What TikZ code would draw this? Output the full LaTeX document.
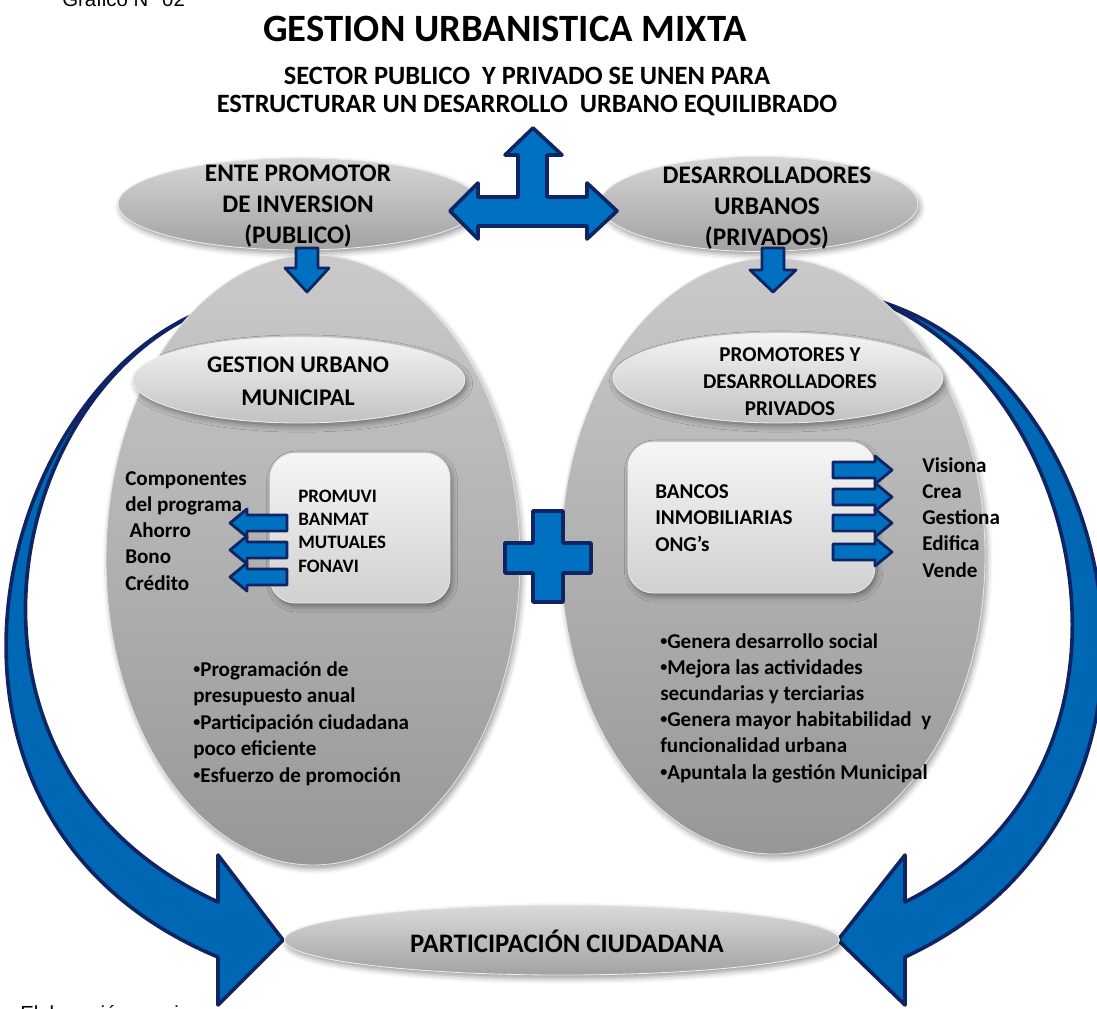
\documentclass[tikz,border=0pt]{standalone}
\usepackage{fontspec}
\setmainfont{Carlito}
\newfontfamily\arialfont{Liberation Sans}
\usetikzlibrary{shapes.geometric,shadows.blur}
\definecolor{abl}{HTML}{0070C0}
\definecolor{cbl}{HTML}{0067B5}
\definecolor{nvy}{HTML}{0F2463}
\definecolor{bigtop}{HTML}{CACACA}
\definecolor{bigbot}{HTML}{979797}
\definecolor{toptop}{HTML}{D6D6D6}
\definecolor{topbot}{HTML}{A2A2A2}
\definecolor{intop}{HTML}{F4F4F4}
\definecolor{inbot}{HTML}{C2C2C2}
\definecolor{boxtop}{HTML}{F6F6F6}
\definecolor{boxbot}{HTML}{D0D0D0}
\newcommand\pxu{0.025cm}
\newcommand\bul{\raisebox{0.28ex}{\fontsize{10}{10}\selectfont •}}
\begin{document}
\begin{tikzpicture}[x=0.025cm,y=-0.025cm,
  blk/.style={fill=abl, draw=nvy, line width=2.6pt, line join=round},
  sblk/.style={fill=abl, draw=nvy, line width=2pt, line join=round},
  shd/.style={blur shadow={shadow xshift=1.5pt, shadow yshift=-2.5pt, shadow blur radius=4pt, shadow opacity=40}},
  bigell/.style={ellipse, inner sep=0pt, top color=bigtop, bottom color=bigbot, draw=white!80!gray, line width=0.6pt, shd},
  topell/.style={ellipse, inner sep=0pt, top color=toptop, bottom color=topbot, draw=white!85!gray, line width=0.6pt, shd},
  inell/.style={ellipse, inner sep=0pt, top color=intop, bottom color=inbot, draw=white!85!gray, line width=0.6pt, shd},
  rbox/.style={rectangle, rounded corners=18pt, inner sep=0pt, top color=boxtop, bottom color=boxbot, draw=white!85!gray, line width=0.6pt, shd},
  tx/.style={inner sep=0pt, align=left, text=black, font=\bfseries\fontsize{15}{18.6}\selectfont},
  hd/.style={inner sep=0pt, align=center, text=black}
]
\useasboundingbox (0,0) rectangle (1097,1008);

% curved arrows (behind)
\draw[blk, fill=cbl] (200,312) .. controls (-10,400) and (-110,820) .. (218,957)
  -- (218,1005) -- (283,940) -- (218,855) -- (218,902)
  .. controls (-70,770) and (0,400) .. (200,312) -- cycle;
\draw[blk, fill=cbl] (875,300) .. controls (1120,370) and (1220,810) .. (905,957)
  -- (905,1005) -- (838,940) -- (905,855) -- (905,902)
  .. controls (1170,770) and (1090,385) .. (875,300) -- cycle;

% top ellipses
\node[topell, minimum width=362*\pxu, minimum height=92*\pxu] (etl) at (299,204) {};
\node[topell, minimum width=318*\pxu, minimum height=95*\pxu] (etr) at (759,204) {};

% big ellipses
\node[bigell, minimum width=414*\pxu, minimum height=610*\pxu] (bl) at (313,560) {};
\node[bigell, minimum width=424*\pxu, minimum height=596*\pxu] (br) at (773,556) {};

% T arrow
\draw[blk] (533,128) -- (562,155) -- (547,155) -- (547,197) -- (587,197) -- (587,183)
  -- (617,211) -- (587,239) -- (587,226) -- (478,226) -- (478,239) -- (450,211)
  -- (478,183) -- (478,197) -- (518,197) -- (518,155) -- (505,155) -- cycle;

% down arrows
\draw[sblk] (296,248) -- (318,248) -- (318,268) -- (329,268) -- (307,292) -- (285,268) -- (296,268) -- cycle;
\draw[sblk] (762,248) -- (784,248) -- (784,270) -- (796,270) -- (773,292) -- (750,270) -- (762,270) -- cycle;

% inner ellipses and boxes
\node[inell, minimum width=332*\pxu, minimum height=86*\pxu] (il) at (299,380) {};
\node[inell, minimum width=330*\pxu, minimum height=90*\pxu] (ir) at (778,378) {};
\node[rbox, minimum width=180*\pxu, minimum height=150*\pxu] (bxl) at (360,528) {};
\node[rbox, minimum width=247*\pxu, minimum height=151*\pxu] (bxr) at (751.5,517.5) {};

% small left arrows
\foreach \yy in {523,550,577}{
  \draw[sblk] (287,\yy-8) -- (247,\yy-8) -- (247,\yy-14) -- (230,\yy) -- (247,\yy+14) -- (247,\yy+8) -- (287,\yy+8) -- cycle;
}
% small right arrows
\foreach \yy in {470,497,523,552}{
  \draw[sblk] (833,\yy-8) -- (875,\yy-8) -- (875,\yy-14) -- (892,\yy) -- (875,\yy+14) -- (875,\yy+8) -- (833,\yy+8) -- cycle;
}

% plus
\draw[blk] (533,511) -- (563,511) -- (563,543) -- (591,543) -- (591,573) -- (563,573) -- (563,602)
  -- (533,602) -- (533,573) -- (505,573) -- (505,543) -- (533,543) -- cycle;

% bottom ellipse
\node[topell, top color=toptop!90!white, minimum width=555*\pxu, minimum height=70*\pxu] (pc) at (562,940) {};

% texts (anchor base = baseline of the last line)
\node[anchor=base west, inner sep=0pt, font=\arialfont\fontsize{14.5}{17}\selectfont] (graf) at (62,6) {Grafico N° 02};
\node[anchor=base west, inner sep=0pt, font=\arialfont\fontsize{14.5}{17}\selectfont] (elab) at (20,1020) {Elaboración propia};

\node[hd, anchor=base, font=\bfseries\fontsize{27.5}{32}\selectfont] (title) at (505,41) {GESTION URBANISTICA MIXTA};
\node[hd, anchor=base, font=\bfseries\fontsize{18.8}{19.9}\selectfont] (sub) at (527,112) {SECTOR PUBLICO\ \ Y PRIVADO SE UNEN PARA\\ESTRUCTURAR UN DESARROLLO\ \ URBANO EQUILIBRADO};

\node[hd, anchor=base, font=\bfseries\fontsize{18}{21.7}\selectfont] (tlt) at (298,243) {ENTE PROMOTOR\\DE INVERSION\\(PUBLICO)};
\node[hd, anchor=base, font=\bfseries\fontsize{18}{21.7}\selectfont] (trt) at (767,245) {DESARROLLADORES\\URBANOS\\(PRIVADOS)};

\node[hd, anchor=base, font=\bfseries\fontsize{17}{22.8}\selectfont] (ilt) at (298,405) {GESTION URBANO\\MUNICIPAL};
\node[hd, anchor=base, font=\bfseries\fontsize{15}{19.2}\selectfont] (irt) at (790,415) {PROMOTORES Y\\DESARROLLADORES\\PRIVADOS};

\node[tx, anchor=base west, font=\bfseries\fontsize{13.5}{16.4}\selectfont] (bxlt) at (298,572) {PROMUVI\\BANMAT\\MUTUALES\\FONAVI};
\node[tx, anchor=base west] (bxrt) at (655,551) {BANCOS\\INMOBILIARIAS\\ONG’s};

\node[tx, anchor=base west] (comp) at (125,590) {Componentes\\del programa\\\hspace{3pt}Ahorro\\Bono\\Crédito};
\node[tx, anchor=base west] (vis) at (922,577) {Visiona\\Crea\\Gestiona\\Edifica\\Vende};

\node[tx, anchor=base west, font=\bfseries\fontsize{15}{18.8}\selectfont] (bull) at (193,782) {\bul Programación de\\presupuesto anual\\\bul Participación ciudadana\\poco eficiente\\\bul Esfuerzo de promoción};
\node[tx, anchor=base west, font=\bfseries\fontsize{15}{18.6}\selectfont] (bulr) at (660,779) {\bul Genera desarrollo social\\\bul Mejora las actividades\\secundarias y terciarias\\\bul Genera mayor habitabilidad\ \ y\\funcionalidad urbana\\\bul Apuntala la gestión Municipal};

\node[hd, anchor=base, font=\bfseries\fontsize{19}{22}\selectfont] (pct) at (567,952) {PARTICIPACIÓN CIUDADANA};
\end{tikzpicture}
\end{document}
